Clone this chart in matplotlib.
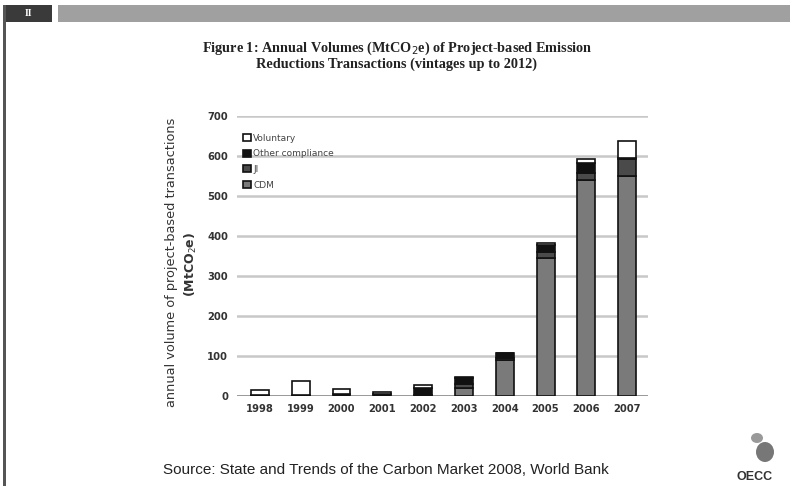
import matplotlib
matplotlib.use("Agg")
import matplotlib.pyplot as plt
import numpy as np
from matplotlib.patches import Rectangle, Ellipse

years = ["1998", "1999", "2000", "2001", "2002", "2003", "2004", "2005", "2006", "2007"]
cdm = [0, 0, 0, 0, 2, 20, 90, 345, 540, 551]
ji = [0, 0, 0, 0, 0, 10, 6, 15, 18, 41]
other = [3, 2, 4, 5, 17, 15, 12, 18, 25, 3]
voluntary = [12, 35, 13, 5, 8, 3, 0, 4, 10, 42]
series_names = ["CDM", "JI", "Other compliance", "Voluntary"]
yticks = [0, 100, 200, 300, 400, 500, 600, 700]

fig = plt.figure(figsize=(7.9, 4.86), dpi=100)
fig.patch.set_facecolor("white")

# header decoration
fig.add_artist(Rectangle((5/790, 1-22/486), 47/790, 17/486, transform=fig.transFigure,
                         facecolor="#3a3a3a", edgecolor="none"))
fig.text(28/790, 1-13.5/486, "II", color="white", fontsize=7, ha="center", va="center",
         fontweight="bold", family="Liberation Serif")
fig.add_artist(Rectangle((58/790, 1-22/486), 732/790, 17/486, transform=fig.transFigure,
                         facecolor="#a0a0a0", edgecolor="none"))
fig.add_artist(Rectangle((3/790, 0), 2.5/790, 1-5/486, transform=fig.transFigure,
                         facecolor="#555555", edgecolor="none"))

fig.text(397/790, 1-55/486,
         "Figure 1: Annual Volumes (MtCO$_2$e) of Project-based Emission\nReductions Transactions (vintages up to 2012)",
         ha="center", va="center", fontsize=10.3, fontweight="bold", family="Liberation Serif",
         color="#222222", linespacing=1.05)

ax = fig.add_axes([237/790, 90/486, 411/790, 280/486])
x = np.arange(len(years))
w = 0.44
cdm_a = np.array(cdm); ji_a = np.array(ji); oth_a = np.array(other); vol_a = np.array(voluntary)
ax.bar(x, cdm_a, w, color="#7a7a7a", edgecolor="#111111", linewidth=1.2, label=series_names[0], zorder=3)
ax.bar(x, ji_a, w, bottom=cdm_a, color="#4a4a4a", edgecolor="#111111", linewidth=1.2, label=series_names[1], zorder=3)
ax.bar(x, oth_a, w, bottom=cdm_a + ji_a, color="#111111", edgecolor="#111111", linewidth=1.2, label=series_names[2], zorder=3)
ax.bar(x, vol_a, w, bottom=cdm_a + ji_a + oth_a, color="white", edgecolor="#111111", linewidth=1.2, label=series_names[3], zorder=3)

ax.set_ylim(0, 700)
ax.set_xlim(-0.56, 9.51)
ax.set_yticks(yticks)
ax.set_yticklabels([str(t) for t in yticks], fontsize=7.2, fontweight="bold", color="#333333")
ax.set_xticks(x)
ax.set_xticklabels(years, fontsize=7.2, fontweight="bold", color="#333333")
ax.tick_params(length=0)
ax.tick_params(axis="y", pad=6.5)
ax.tick_params(axis="x", pad=6)
for s in ax.spines.values():
    s.set_visible(False)
ax.yaxis.grid(True, color="#c8c8c8", linewidth=1.8, zorder=0)
ax.axhline(0, color="#888888", linewidth=1.8, zorder=2)

h, l = ax.get_legend_handles_labels()
leg = ax.legend(h[::-1], l[::-1], loc="upper left", bbox_to_anchor=(0.0, 0.96), frameon=False,
                fontsize=6.5, handlelength=0.8, handleheight=0.8, handletextpad=0.3,
                labelspacing=0.75, borderaxespad=0.3)
for t in leg.get_texts():
    t.set_color("#444444")

fig.text(172/790, 1-262/486, "annual volume of project-based transactions",
         rotation=90, ha="center", va="center", fontsize=9.3, color="#333333")
fig.text(191/790, 1-264/486, "(MtCO$_2$e)", rotation=90, ha="center", va="center",
         fontsize=9, fontweight="bold", color="#333333")

fig.text(386/790, 1-470/486, "Source: State and Trends of the Carbon Market 2008, World Bank",
         ha="center", va="center", fontsize=11, color="#222222", family="Liberation Sans")

# OECC logo
fig.text(755/790, 1-477/486, "OECC", ha="center", va="center", fontsize=9, fontweight="bold",
         color="#333333", family="Liberation Sans")
fig.add_artist(Ellipse((765/790, 1-452/486), 18/790, 20/486, transform=fig.transFigure,
                       facecolor="#777777", edgecolor="none"))
fig.add_artist(Ellipse((757/790, 1-438/486), 12/790, 10/486, transform=fig.transFigure,
                       facecolor="#999999", edgecolor="none"))

fig.savefig("out.png", dpi=100, facecolor="white")
